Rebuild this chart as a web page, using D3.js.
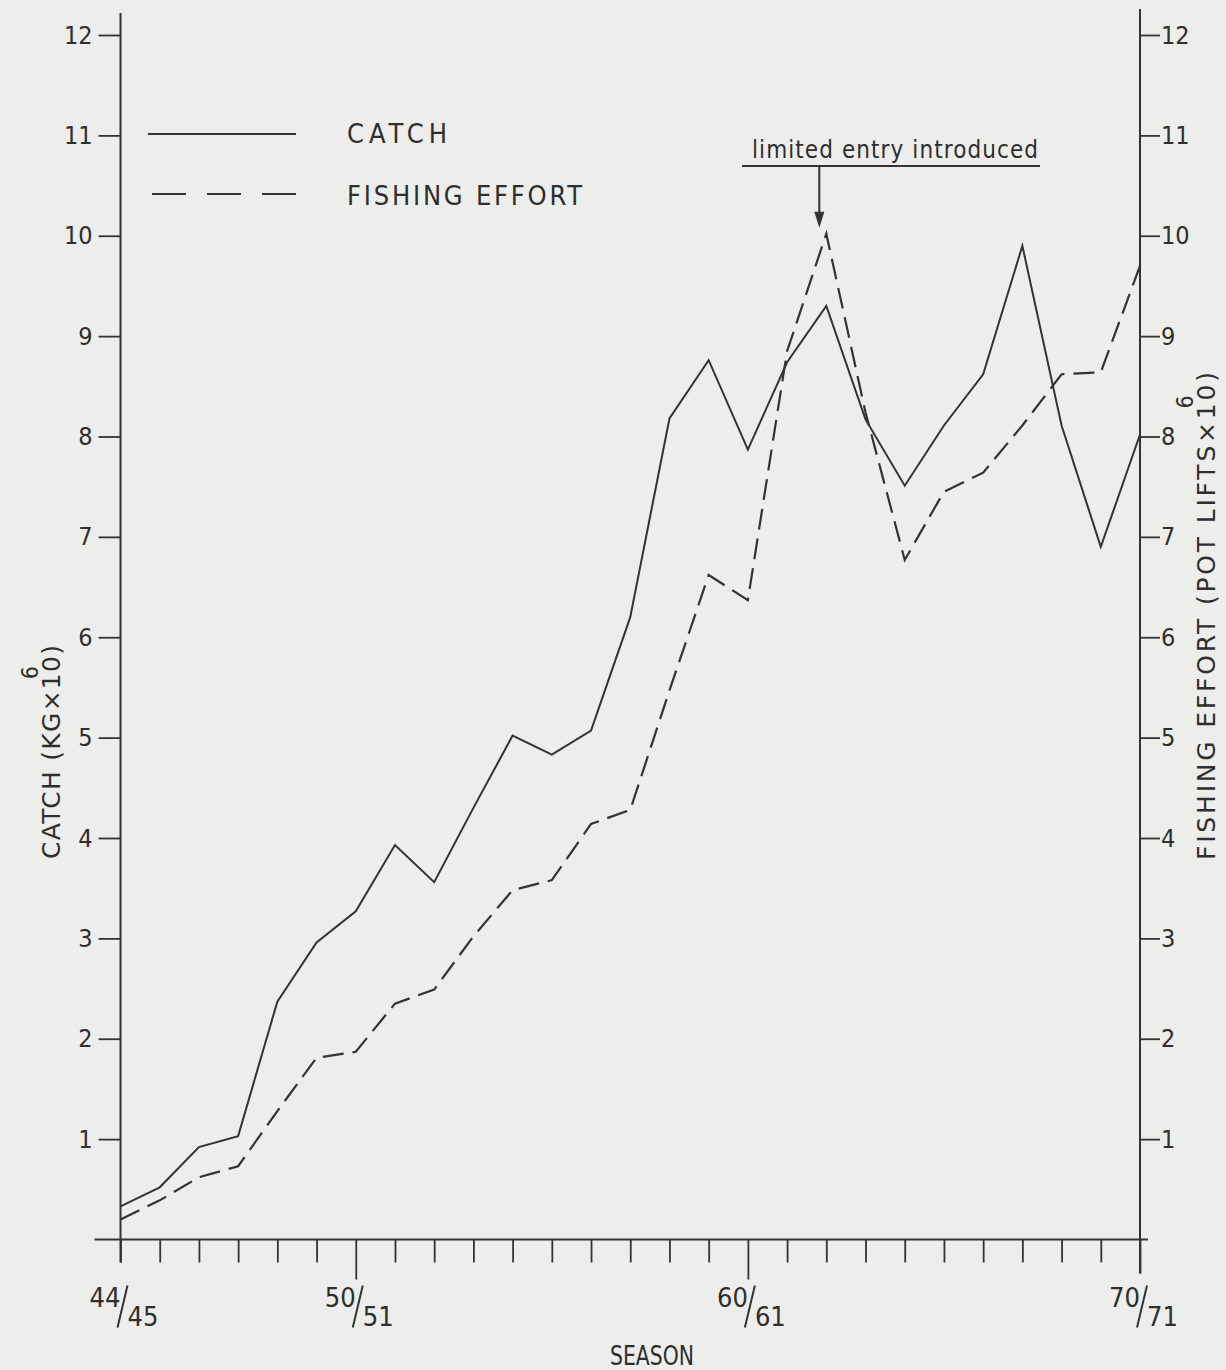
<!DOCTYPE html>
<html>
<head>
<meta charset="utf-8">
<script src="https://cdn.jsdelivr.net/npm/d3@7"></script>
<style>
  body { margin: 0; background: #ededeb; }
  svg { display: block; }
  text { font-family: "DejaVu Sans", sans-serif; font-stretch: condensed; fill: #2e2e2e; }
</style>
</head>
<body>
<svg id="chart" width="1226" height="1370"></svg>
<script>
// seasons 44/45 .. 70/71, by first year
var seasons = [44, 45, 46, 47, 48, 49, 50, 51, 52, 53, 54, 55, 56, 57,
               58, 59, 60, 61, 62, 63, 64, 65, 66, 67, 68, 69, 70];

// catch, 10^6 kg
var catchVals = [0.33, 0.52, 0.92, 1.03, 2.37, 2.96, 3.27, 3.93, 3.56, 4.30, 5.02, 4.83, 5.07, 6.20,
                 8.18, 8.76, 7.87, 8.74, 9.30, 8.17, 7.51, 8.11, 8.62, 9.90, 8.11, 6.90, 8.02];

// fishing effort, 10^6 pot lifts
var effortVals = [0.20, 0.39, 0.62, 0.73, 1.28, 1.81, 1.87, 2.35, 2.49, 3.02, 3.48, 3.58, 4.14, 4.28,
                  5.47, 6.62, 6.37, 8.85, 10.02, 8.24, 6.77, 7.45, 7.64, 8.11, 8.62, 8.64, 9.70];

var yTicks = [1, 2, 3, 4, 5, 6, 7, 8, 9, 10, 11, 12];
var majorSeasons = [44, 50, 60, 70];
var majorLabels = [["44", "45"], ["50", "51"], ["60", "61"], ["70", "71"]];
var entrySeason = 62;

var ink = "#333";
var svg = d3.select("#chart");

var x = d3.scaleLinear().domain([44, 70]).range([120.5, 1140]);
var y = d3.scaleLinear().domain([0, 12]).range([1239.5, 35]);

//axes
var left = svg.append("g").attr("transform", "translate(" + x(44) + ",0)")
    .call(d3.axisLeft(y).tickValues(yTicks).tickSize(22).tickSizeOuter(0).tickPadding(6));
var right = svg.append("g").attr("transform", "translate(" + x(70) + ",0)")
    .call(d3.axisRight(y).tickValues(yTicks).tickSize(20).tickSizeOuter(0).tickPadding(1));
var bottom = svg.append("g").attr("transform", "translate(0," + y(0) + ")")
    .call(d3.axisBottom(x).tickValues(seasons).tickSize(23).tickSizeOuter(0).tickFormat(""));

[left, right, bottom].forEach(function(g) {
  g.select(".domain").remove();
  g.selectAll("line").attr("stroke", ink).attr("stroke-width", 1.8);
  g.selectAll("text").attr("font-size", "25px").attr("fill", "#2e2e2e")
    .style("font-family", "'DejaVu Sans', sans-serif").style("font-stretch", "condensed");
});
bottom.selectAll(".tick line").attr("y2", function(d) {
  return majorSeasons.indexOf(d) >= 0 && d !== 44 ? (d === 70 ? 34 : 40) : 23;
});

// axis lines, a bit past the ends
svg.append("line").attr("x1", x(44)).attr("x2", x(44))
   .attr("y1", y(12) - 22).attr("y2", y(0) + 23)
   .attr("stroke", ink).attr("stroke-width", 2);
svg.append("line").attr("x1", x(70)).attr("x2", x(70))
   .attr("y1", y(12) - 26).attr("y2", y(0) + 34)
   .attr("stroke", ink).attr("stroke-width", 2);
svg.append("line").attr("x1", x(44) - 26).attr("x2", x(70) + 8)
   .attr("y1", y(0)).attr("y2", y(0))
   .attr("stroke", ink).attr("stroke-width", 2);

// season labels like 50/51
var lab = svg.selectAll("g.season")
   .data(majorSeasons)
   .enter()
   .append("g")
   .attr("transform", function(d) { return "translate(" + x(d) + "," + y(0) + ")"; });
lab.append("text")
   .attr("x", 0).attr("y", 67).attr("text-anchor", "end").attr("font-size", "27px")
   .text(function(d, i) { return majorLabels[i][0]; });
lab.append("line")
   .attr("x1", -3).attr("y1", 88).attr("x2", 7).attr("y2", 46)
   .attr("stroke", ink).attr("stroke-width", 2);
lab.append("text")
   .attr("x", 7).attr("y", 86).attr("text-anchor", "start").attr("font-size", "27px")
   .text(function(d, i) { return majorLabels[i][1]; });

svg.append("text")
   .attr("x", 610).attr("y", 1365)
   .attr("font-size", "26px").attr("textLength", 84).attr("lengthAdjust", "spacingAndGlyphs")
   .text("SEASON");

// axis titles, rotated, with the 6 set over the 10
function yTitle(cx, cy, len, label) {
  var g = svg.append("g").attr("transform", "translate(" + cx + "," + cy + ") rotate(-90)");
  var t = g.append("text").attr("x", -len / 2).attr("font-size", "25px")
     .style("font-stretch", "normal")
     .attr("textLength", len).attr("lengthAdjust", "spacing").text(label);
  var n = t.node();
  var k = label.indexOf("10");
  var start = n.getStartPositionOfChar(k).x;
  var end = n.getEndPositionOfChar(k + 1).x;
  g.append("text").attr("x", (start + end) / 2).attr("y", -22)
   .attr("text-anchor", "middle").attr("font-size", "23px").text("6");
}
yTitle(60, 752, 214, "CATCH (KG\u00d710)");
yTitle(1215, 616, 488, "FISHING EFFORT (POT LIFTS\u00d710)");

// series
var line = d3.line()
   .x(function(d, i) { return x(seasons[i]); })
   .y(function(d) { return y(d); });

svg.append("path").datum(catchVals)
   .attr("d", line).attr("fill", "none")
   .attr("stroke", ink).attr("stroke-width", 2).attr("stroke-linejoin", "miter");

svg.append("path").datum(effortVals)
   .attr("d", line).attr("fill", "none")
   .attr("stroke", ink).attr("stroke-width", 2.2).attr("stroke-dasharray", "21,9");

// legend
svg.append("line").attr("x1", 148).attr("x2", 296).attr("y1", 134).attr("y2", 134)
   .attr("stroke", ink).attr("stroke-width", 1.8);
svg.append("line").attr("x1", 152).attr("x2", 296).attr("y1", 194).attr("y2", 194)
   .attr("stroke", ink).attr("stroke-width", 1.8).attr("stroke-dasharray", "34,21");
svg.append("text").attr("x", 347).attr("y", 143).attr("font-size", "27px")
   .attr("textLength", 100).attr("lengthAdjust", "spacing").text("CATCH");
svg.append("text").attr("x", 347).attr("y", 205).attr("font-size", "27px")
   .attr("textLength", 235).attr("lengthAdjust", "spacing").text("FISHING EFFORT");

// limited entry annotation
var ax = x(entrySeason) - 7;
var tipY = y(effortVals[seasons.indexOf(entrySeason)]);
svg.append("text").attr("x", 752).attr("y", 158).attr("font-size", "24px")
   .attr("textLength", 286).attr("lengthAdjust", "spacing").text("limited entry introduced");
svg.append("line").attr("x1", 742).attr("x2", 1040).attr("y1", 166).attr("y2", 166)
   .attr("stroke", ink).attr("stroke-width", 2);
svg.append("line").attr("x1", ax).attr("x2", ax).attr("y1", 166).attr("y2", tipY - 20)
   .attr("stroke", ink).attr("stroke-width", 2);
svg.append("path")
   .attr("d", "M" + (ax - 5) + "," + (tipY - 22) + "L" + (ax + 5) + "," + (tipY - 22) +
              "L" + ax + "," + (tipY - 6) + "Z")
   .attr("fill", ink);
</script>
</body>
</html>
